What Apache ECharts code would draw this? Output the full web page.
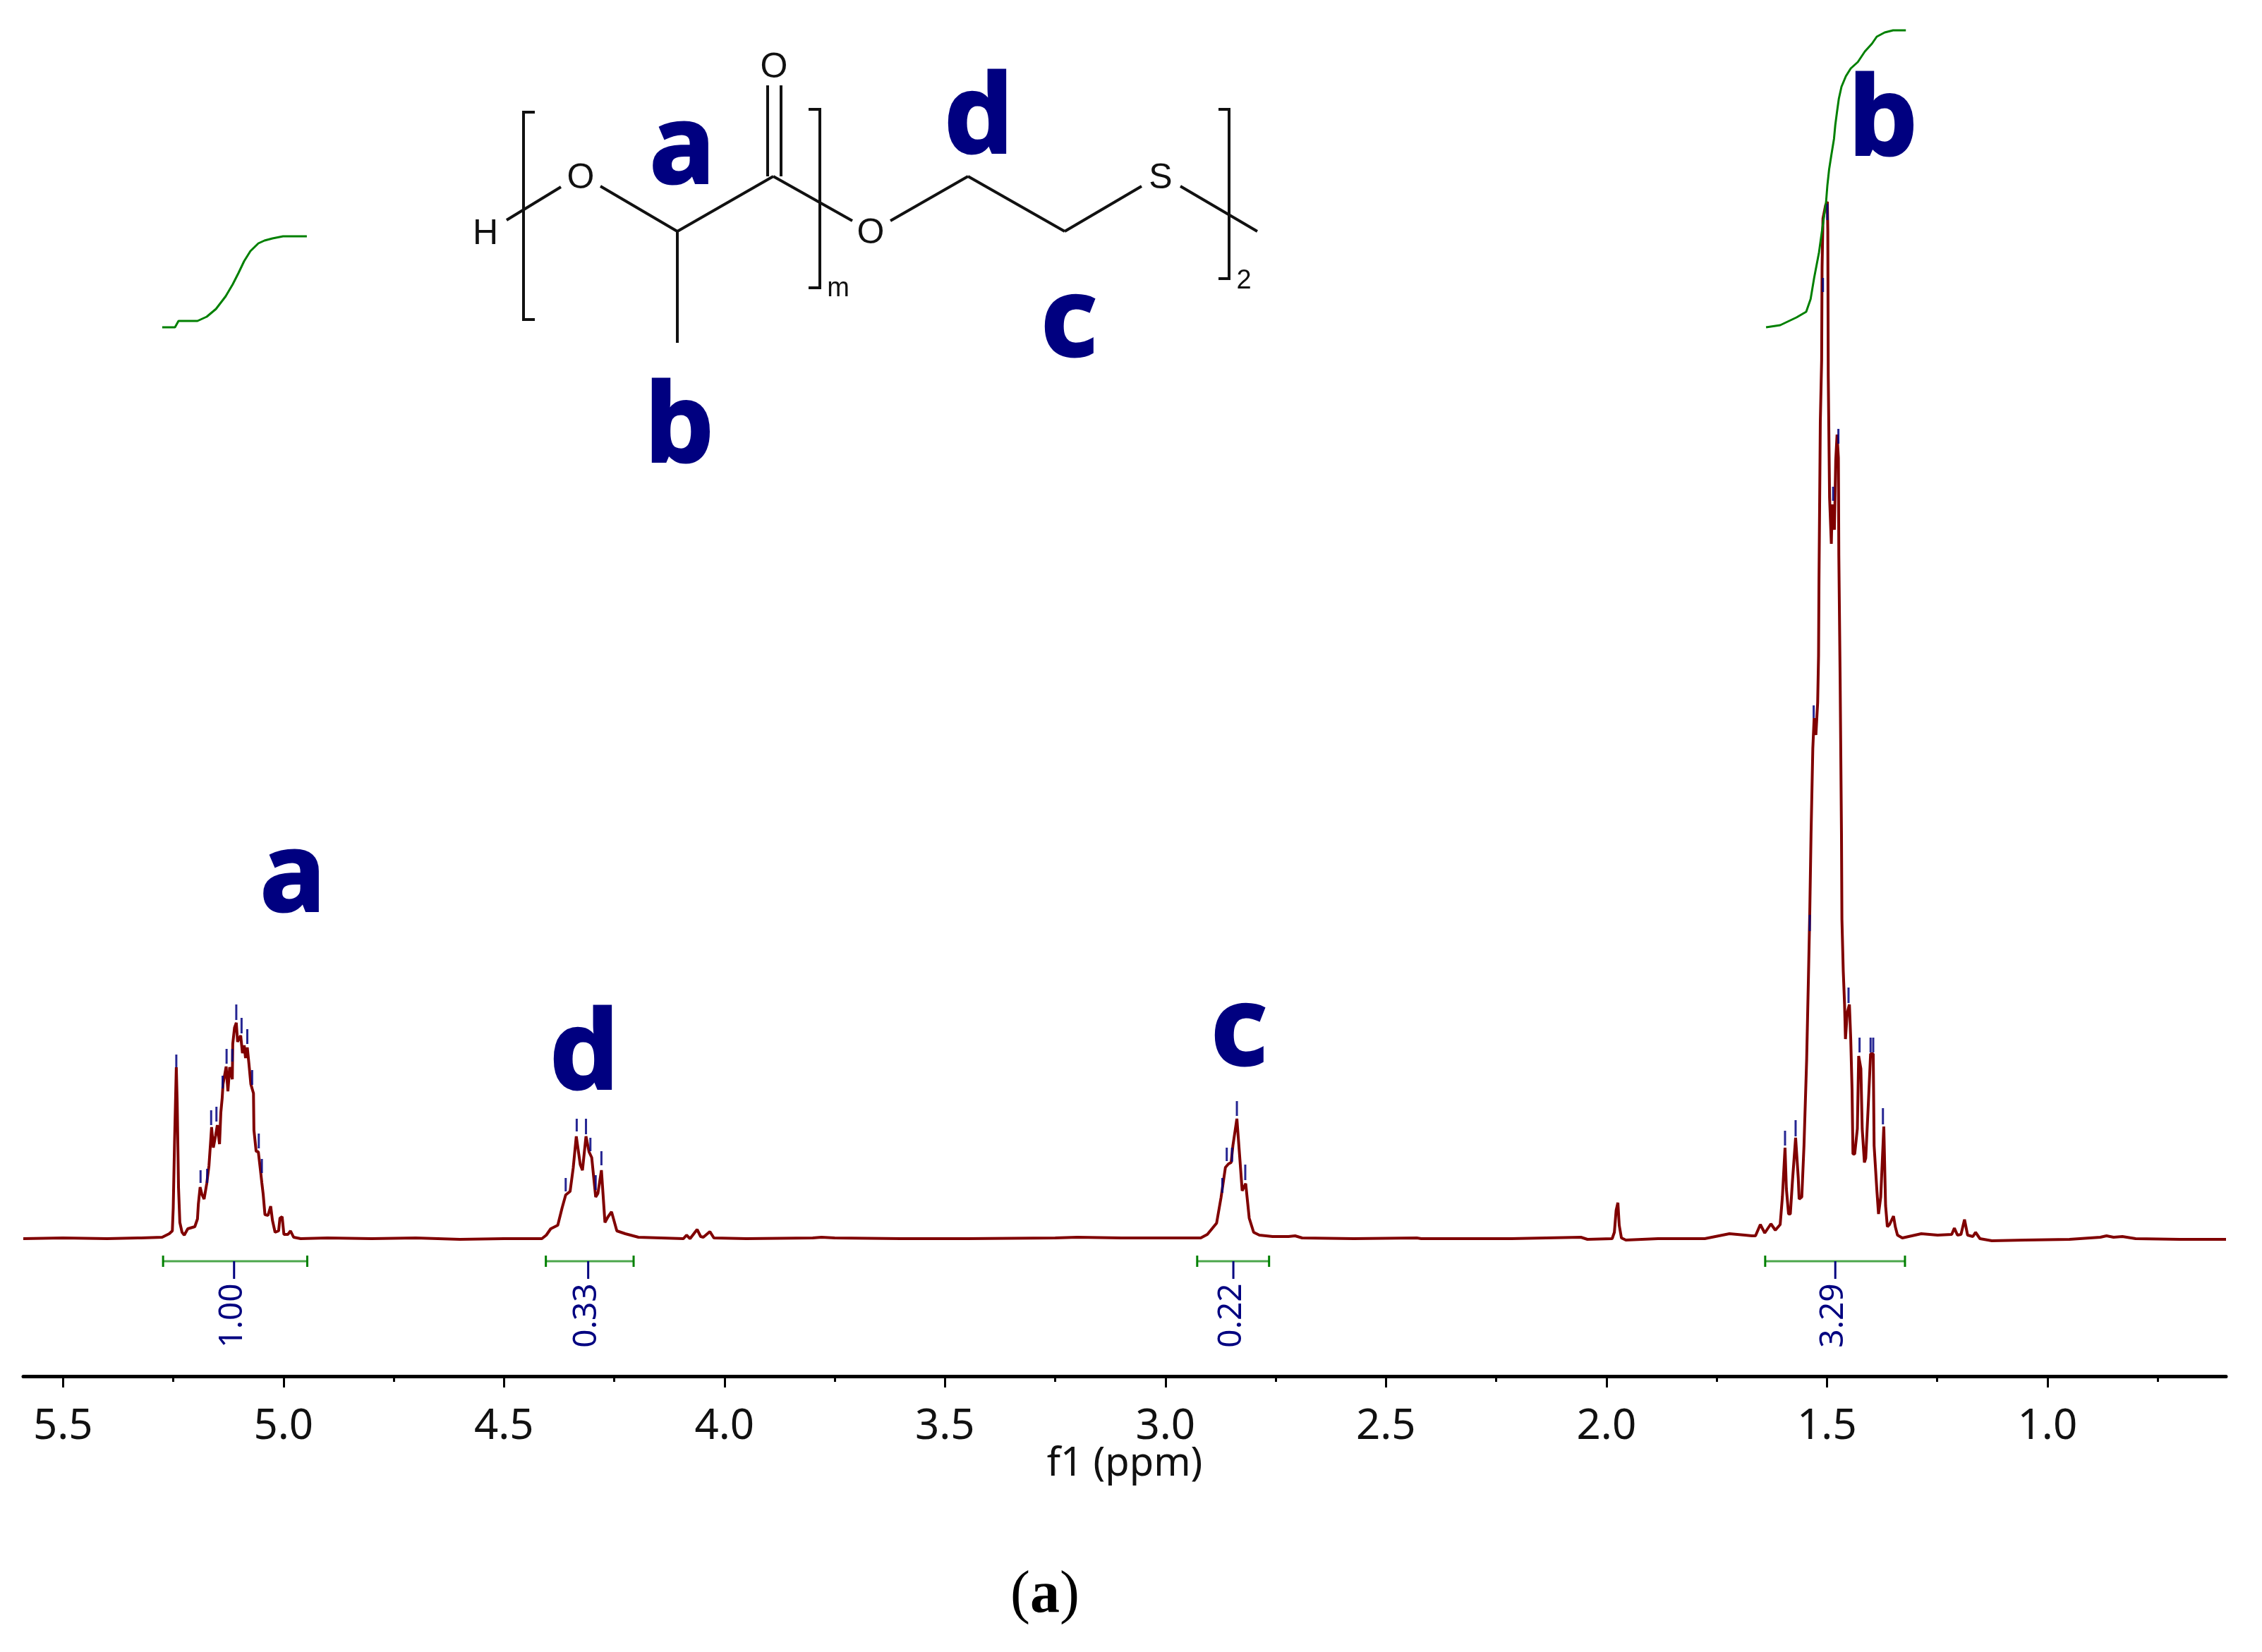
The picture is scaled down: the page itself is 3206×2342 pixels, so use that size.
<!DOCTYPE html>
<html>
<head>
<meta charset="utf-8">
<style>html,body{margin:0;padding:0;background:#fff}#c{width:3206px;height:2342px}</style>
<script src="https://cdn.jsdelivr.net/npm/echarts@6/dist/echarts.min.js"></script>
</head>
<body>
<div id="c"></div>
<script>
// [ppm, intensity]
const baselineLeft = [[5.59,0],[5.50,1],[5.40,0],[5.33,1]];
const peakA = [[5.323,1],[5.275,2],[5.259,7],[5.252,11],[5.250,43],[5.247,136],[5.243,243],[5.241,193],[5.238,73],[5.235,23],[5.230,9],[5.225,5],[5.217,14],[5.201,17],[5.195,28],[5.193,49],[5.189,73],[5.185,63],[5.180,56],[5.174,78],[5.169,103],[5.165,139],[5.163,158],[5.159,129],[5.154,146],[5.150,161],[5.145,134],[5.142,179],[5.139,199],[5.137,219],[5.130,244],[5.126,209],[5.122,243],[5.116,226],[5.115,276],[5.111,299],[5.107,306],[5.104,279],[5.097,288],[5.093,263],[5.089,274],[5.086,256],[5.082,271],[5.078,246],[5.074,219],[5.068,206],[5.067,154],[5.062,124],[5.057,123],[5.052,96],[5.049,79],[5.046,63],[5.042,34],[5.035,33],[5.029,46],[5.025,26],[5.019,9],[5.011,11],[5.008,29],[5.003,31],[4.999,6],[4.990,6],[4.984,11],[4.977,2],[4.961,0]];
const baselineAD = [[4.90,1],[4.80,0],[4.70,1],[4.60,-1],[4.50,0],[4.43,0]];
const peakD = [[4.414,0],[4.404,5],[4.394,14],[4.378,19],[4.368,44],[4.360,62],[4.350,67],[4.343,100],[4.336,145],[4.327,105],[4.322,97],[4.314,145],[4.307,123],[4.301,115],[4.292,59],[4.287,64],[4.279,97],[4.271,23],[4.264,31],[4.256,38],[4.244,11],[4.225,7],[4.195,2],[4.093,0],[4.086,5],[4.078,0],[4.062,13],[4.054,3],[4.048,2],[4.033,10],[4.024,1]];
const baselineDC = [[3.95,0],[3.80,1],[3.78,2],[3.75,1],[3.60,0],[3.45,0],[3.25,1],[3.20,2],[3.10,1],[3.083,1]];
const peakC = [[2.920,1],[2.905,6],[2.884,22],[2.874,58],[2.864,101],[2.857,106],[2.851,108],[2.847,132],[2.838,170],[2.831,111],[2.826,68],[2.818,78],[2.810,29],[2.800,9],[2.787,5],[2.757,3],[2.721,3],[2.706,4],[2.690,1],[2.573,0],[2.430,1],[2.42,0],[2.216,0],[2.058,2],[2.043,-1]];
const solventPeak = [[1.987,0],[1.982,9],[1.978,40],[1.974,51],[1.971,19],[1.966,1],[1.956,-2]];
const peakB = [[1.883,0],[1.777,0],[1.721,7],[1.686,5],[1.670,4],[1.662,4],[1.651,20],[1.641,8],[1.627,21],[1.617,12],[1.606,20],[1.601,59],[1.595,129],[1.592,71],[1.587,35],[1.583,35],[1.578,83],[1.571,143],[1.565,86],[1.563,56],[1.557,59],[1.552,132],[1.546,253],[1.542,368],[1.539,459],[1.536,574],[1.532,695],[1.529,738],[1.525,714],[1.521,760],[1.519,826],[1.518,934],[1.516,1080],[1.515,1158],[1.512,1245],[1.511,1377],[1.509,1446],[1.503,1465],[1.499,1470],[1.498,1428],[1.497,1224],[1.494,1051],[1.490,985],[1.488,1041],[1.483,1005],[1.480,1104],[1.477,1140],[1.474,1107],[1.473,969],[1.470,791],[1.467,574],[1.466,453],[1.463,380],[1.460,332],[1.458,283],[1.454,320],[1.449,332],[1.446,283],[1.443,211],[1.441,120],[1.437,120],[1.431,156],[1.428,259],[1.423,241],[1.420,156],[1.415,108],[1.412,114],[1.406,192],[1.401,262],[1.395,262],[1.393,132],[1.387,71],[1.383,35],[1.378,59],[1.371,159],[1.367,47],[1.363,17],[1.358,20],[1.349,32],[1.345,17],[1.340,5],[1.329,1],[1.286,7],[1.249,5],[1.217,6],[1.211,15],[1.204,5],[1.196,6],[1.188,27],[1.181,5],[1.169,3],[1.163,9],[1.153,0],[1.126,-3]];
const baselineRight = [[1.05,-2],[0.95,-1],[0.88,2],[0.866,4],[0.85,2],[0.83,3],[0.80,0],[0.70,-1],[0.595,-1]];

const integralCurveA = [[5.275,1292],[5.246,1292],[5.238,1301],[5.195,1301],[5.192,1303],[5.174,1307],[5.153,1318],[5.131,1336],[5.115,1353],[5.102,1369],[5.089,1386],[5.075,1400],[5.057,1411],[5.043,1415],[5.025,1418],[5.001,1421],[4.947,1421]];
const integralCurveB = [[1.638,1292],[1.606,1295],[1.569,1306],[1.547,1314],[1.537,1332],[1.529,1362],[1.518,1398],[1.510,1434],[1.502,1469],[1.499,1493],[1.495,1516],[1.490,1536],[1.484,1559],[1.481,1579],[1.477,1598],[1.473,1616],[1.467,1633],[1.457,1648],[1.446,1659],[1.430,1668],[1.414,1683],[1.398,1694],[1.387,1704],[1.369,1710],[1.350,1713],[1.321,1713]];

// [ppm, lower, upper]
const peakPicks = [[5.243,243,261],[5.188,79,97],[5.173,79,99],[5.164,161,182],[5.152,166,187],[5.138,213,231],[5.129,248,269],[5.116,251,269],[5.107,310,332],[5.095,291,313],[5.082,276,297],[5.071,218,239],[5.056,128,149],[5.049,93,113],
[4.360,67,86],[4.335,152,170],[4.314,148,170],[4.304,124,143],[4.292,69,90],[4.279,104,124],
[2.871,65,86],[2.861,110,129],[2.849,109,129],[2.838,174,195],[2.819,83,105],
[1.595,132,153],[1.571,145,168],[1.539,436,459],[1.530,738,756],[1.509,1342,1362],[1.499,1444,1467],[1.486,1046,1066],[1.474,1127,1148],[1.451,334,356],[1.426,264,285],[1.401,264,285],[1.395,264,285],[1.373,162,185]];

// [from ppm, to ppm, centre ppm]
const integralRanges = [[5.273,4.946,5.112],[4.405,4.206,4.309],[2.928,2.765,2.846],[1.640,1.323,1.481]];
const integralLabels = ['1.00','0.33','0.22','3.29'];

const majorTicks = [1,1.5,2,2.5,3,3.5,4,4.5,5,5.5];
const minorTicks = [0.75,1.25,1.75,2.25,2.75,3.25,3.75,4.25,4.75,5.25];

const NAVY='#000080', GREEN='#008000', RED='#800000', INK='#111';
const LETTER={fontFamily:'"Noto Sans"',fontWeight:700,fontSize:155,fill:NAVY,stroke:NAVY,lineWidth:3,align:'center',verticalAlign:'middle'};
const letters=[['a',967,215],['d',1387,173],['c',1515,460],['b',963,611],['b',2669,176],['a',415,1247],['d',828,1500],['c',1756,1465]];
const bonds=[[718,312,795,265],[851,264,960,328],[960,328,1096,250],[960,328,960,486],[1088,121,1088,250],[1107,121,1107,250],[1096,250,1208,313],[1262,313,1372,250],[1372,250,1509,328],[1509,328,1618,264],[1673,264,1782,328]];
const brackets=[[[758,159],[742,159],[742,453],[758,453]],[[1146,155],[1162,155],[1162,408],[1146,408]],[[1727,155],[1742,155],[1742,395],[1727,395]]];
const atoms=[['H',688,332,50],['O',823,253,50],['O',1097,96,50],['O',1234,331,50],['S',1645,253,50],['m',1188,410,38],['2',1763,399,38]];

const graphic=[];
bonds.forEach(b=>graphic.push({type:'line',silent:true,shape:{x1:b[0],y1:b[1],x2:b[2],y2:b[3]},style:{stroke:INK,lineWidth:4}}));
brackets.forEach(p=>graphic.push({type:'polyline',silent:true,shape:{points:p},style:{stroke:INK,lineWidth:4,fill:null}}));
atoms.forEach(a=>graphic.push({type:'text',silent:true,style:{text:a[0],x:a[1],y:a[2],fontFamily:'"Liberation Sans"',fontSize:a[3],fill:INK,align:'center',verticalAlign:'middle'}}));
letters.forEach(l=>graphic.push({type:'text',silent:true,style:Object.assign({},LETTER,{text:l[0],x:l[1],y:l[2]})}));
graphic.push({type:'text',silent:true,style:{x:1481,y:2263,align:'center',verticalAlign:'middle',text:'{n|(}{b|a}{n|)}',rich:{n:{fontFamily:'"Liberation Serif"',fontSize:84,fill:'#000'},b:{fontFamily:'"Liberation Serif"',fontSize:84,fontWeight:700,fill:'#000'}}}});

const spectrum=[].concat(baselineLeft,peakA,baselineAD,peakD,baselineDC,peakC,solventPeak,peakB,baselineRight);
const line=(name,data,color,w,z)=>({type:'line',name,data,showSymbol:false,symbol:'none',smooth:false,sampling:false,lineStyle:{color,width:w},silent:true,animation:false,z});

const chart=echarts.init(document.getElementById('c'),null,{renderer:'canvas',width:3206,height:2342});
chart.setOption({
  animation:false,
  backgroundColor:'#fff',
  graphic,
  grid:{left:33,right:51,top:0,height:1951,containLabel:false},
  xAxis:[
    {type:'value',inverse:true,min:0.595,max:5.59,position:'bottom',splitLine:{show:false},
     name:'f1 (ppm)',nameLocation:'middle',nameGap:97,nameMoveOverlap:false,nameTextStyle:{fontFamily:'"Noto Sans"',fontSize:56,color:'#111'},
     axisLine:{show:true,onZero:false,lineStyle:{color:'#000',width:5}},
     axisTick:{show:true,length:16,customValues:majorTicks,lineStyle:{color:'#000',width:3}},
     axisLabel:{show:true,margin:42,customValues:majorTicks,fontFamily:'"Noto Sans"',fontSize:60,color:'#111',formatter:v=>v.toFixed(1)}},
    {type:'value',inverse:true,min:0.595,max:5.59,position:'bottom',splitLine:{show:false},
     axisLine:{show:false,onZero:false},
     axisTick:{show:true,length:8,customValues:minorTicks,lineStyle:{color:'#000',width:3}},
     axisLabel:{show:false}}
  ],
  yAxis:{type:'value',min:-195,max:1756,show:false,splitLine:{show:false}},
  series:[
    line('spectrum',spectrum,RED,4,3),
    line('integral a',integralCurveA,GREEN,3,4),
    line('integral b',integralCurveB,GREEN,3,4),
    {type:'custom',name:'peak picks',data:peakPicks,silent:true,z:5,encode:{x:0,y:[1,2]},
     renderItem:(p,api)=>{
       const a=api.coord([api.value(0),api.value(1)]),b=api.coord([api.value(0),api.value(2)]);
       return {type:'line',shape:{x1:a[0],y1:a[1],x2:b[0],y2:b[1]},style:{stroke:NAVY,lineWidth:3,opacity:.85}};
     }},
    {type:'custom',name:'integrals',data:integralRanges,silent:true,z:5,encode:{x:[0,1,2]},
     renderItem:(p,api)=>{
       const Y=-32;
       const s=api.coord([api.value(0),Y]),e=api.coord([api.value(1),Y]),m=api.coord([api.value(2),Y]);
       const st={stroke:GREEN,lineWidth:3}, bl={stroke:NAVY,lineWidth:3};
       return {type:'group',children:[
         {type:'line',shape:{x1:s[0],y1:s[1],x2:e[0],y2:e[1]},style:{stroke:GREEN,lineWidth:3,opacity:.7}},
         {type:'line',shape:{x1:s[0],y1:s[1]-8,x2:s[0],y2:s[1]+8},style:st},
         {type:'line',shape:{x1:e[0],y1:e[1]-8,x2:e[0],y2:e[1]+8},style:st},
         {type:'line',shape:{x1:m[0],y1:m[1],x2:m[0],y2:m[1]+25},style:bl},
         {type:'text',x:m[0]-2,y:m[1]+77,rotation:Math.PI/2,
          style:{text:integralLabels[p.dataIndex],fontFamily:'"Noto Sans"',fontSize:46,fill:NAVY,align:'center',verticalAlign:'middle'}}
       ]};
     }}
  ]
});
</script>
</body>
</html>
